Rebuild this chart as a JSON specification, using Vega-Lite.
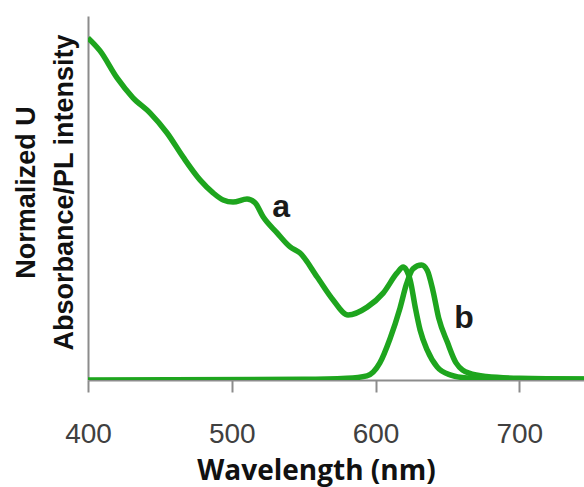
{
  "$schema": "https://vega.github.io/schema/vega-lite/v6.json",
  "width": 496,
  "height": 364,
  "autosize": {"type": "none"},
  "padding": {"left": 88, "top": 16, "right": 0, "bottom": 107},
  "background": "white",
  "config": {"view": {"stroke": null}},
  "datasets": {
    "spectra": [
      {"series": "a", "wl": 400, "v": 1.0},
      {"series": "a", "wl": 408.4, "v": 0.962},
      {"series": "a", "wl": 420.2, "v": 0.883},
      {"series": "a", "wl": 431.3, "v": 0.825},
      {"series": "a", "wl": 443.1, "v": 0.781},
      {"series": "a", "wl": 455.0, "v": 0.722},
      {"series": "a", "wl": 466.1, "v": 0.652},
      {"series": "a", "wl": 477.9, "v": 0.585},
      {"series": "a", "wl": 487.0, "v": 0.547},
      {"series": "a", "wl": 494.0, "v": 0.526},
      {"series": "a", "wl": 500.9, "v": 0.520},
      {"series": "a", "wl": 510.6, "v": 0.529},
      {"series": "a", "wl": 516.2, "v": 0.518},
      {"series": "a", "wl": 521.8, "v": 0.477},
      {"series": "a", "wl": 531.5, "v": 0.430},
      {"series": "a", "wl": 540.6, "v": 0.389},
      {"series": "a", "wl": 547.5, "v": 0.371},
      {"series": "a", "wl": 559.4, "v": 0.301},
      {"series": "a", "wl": 570.5, "v": 0.234},
      {"series": "a", "wl": 580.9, "v": 0.190},
      {"series": "a", "wl": 594.2, "v": 0.213},
      {"series": "a", "wl": 605.3, "v": 0.254},
      {"series": "a", "wl": 615.0, "v": 0.313},
      {"series": "a", "wl": 619.2, "v": 0.330},
      {"series": "a", "wl": 624.1, "v": 0.292},
      {"series": "a", "wl": 627.6, "v": 0.213},
      {"series": "a", "wl": 631.0, "v": 0.146},
      {"series": "a", "wl": 635.9, "v": 0.088},
      {"series": "a", "wl": 642.9, "v": 0.038},
      {"series": "a", "wl": 651.9, "v": 0.015},
      {"series": "a", "wl": 663.7, "v": 0.006},
      {"series": "a", "wl": 686.7, "v": 0.003},
      {"series": "a", "wl": 745, "v": 0.002},
      {"series": "b", "wl": 400, "v": 0.0},
      {"series": "b", "wl": 550, "v": 0.002},
      {"series": "b", "wl": 580, "v": 0.005},
      {"series": "b", "wl": 594, "v": 0.012},
      {"series": "b", "wl": 603, "v": 0.05},
      {"series": "b", "wl": 610, "v": 0.12},
      {"series": "b", "wl": 617, "v": 0.21},
      {"series": "b", "wl": 621.5, "v": 0.28},
      {"series": "b", "wl": 626, "v": 0.325},
      {"series": "b", "wl": 632, "v": 0.336},
      {"series": "b", "wl": 636, "v": 0.32},
      {"series": "b", "wl": 640, "v": 0.26},
      {"series": "b", "wl": 644, "v": 0.18},
      {"series": "b", "wl": 650, "v": 0.11},
      {"series": "b", "wl": 656, "v": 0.05},
      {"series": "b", "wl": 665, "v": 0.02},
      {"series": "b", "wl": 677, "v": 0.01},
      {"series": "b", "wl": 700, "v": 0.005},
      {"series": "b", "wl": 745, "v": 0.003}
    ],
    "labels": [
      {"name": "a", "wl": 534.3, "v": 0.506},
      {"name": "b", "wl": 661.6, "v": 0.181}
    ]
  },
  "layer": [
    {
      "data": {"name": "spectra"},
      "mark": {"type": "line", "interpolate": "monotone", "strokeWidth": 5.5, "color": "#1ea51e", "clip": true},
      "encoding": {
        "x": {
          "field": "wl", "type": "quantitative",
          "scale": {"domain": [400, 745], "nice": false, "zero": false},
          "axis": {
            "values": [400, 500, 600, 700],
            "grid": false,
            "domainColor": "#8c8c8c", "domainWidth": 2,
            "tickColor": "#8c8c8c", "tickWidth": 2, "tickSize": 12,
            "labelFont": "Liberation Sans", "labelFontSize": 28, "labelColor": "#404040",
            "labelPadding": 28, "labelFlush": false,
            "title": "Wavelength (nm)",
            "titleFont": "Open Sans", "titleFontSize": 28, "titleFontWeight": "bold",
            "titleColor": "#111111", "titlePadding": 9, "titleX": 228
          }
        },
        "y": {
          "field": "v", "type": "quantitative",
          "scale": {"domain": [0, 1.064], "nice": false},
          "axis": {
            "ticks": false, "labels": false, "grid": false,
            "domainColor": "#8c8c8c", "domainWidth": 2,
            "title": ["Normalized U", "Absorbance/PL intensity"],
            "titleFont": "Liberation Sans", "titleFontSize": 27, "titleFontWeight": "bold",
            "titleColor": "#111111", "titleLineHeight": 38, "titlePadding": 10, "titleY": 176
          }
        },
        "detail": {"field": "series"}
      }
    },
    {
      "data": {"name": "labels"},
      "mark": {"type": "text", "font": "Liberation Sans", "fontSize": 32, "fontWeight": "bold", "color": "#1a1a1a"},
      "encoding": {
        "x": {"field": "wl", "type": "quantitative"},
        "y": {"field": "v", "type": "quantitative"},
        "text": {"field": "name"}
      }
    }
  ]
}
